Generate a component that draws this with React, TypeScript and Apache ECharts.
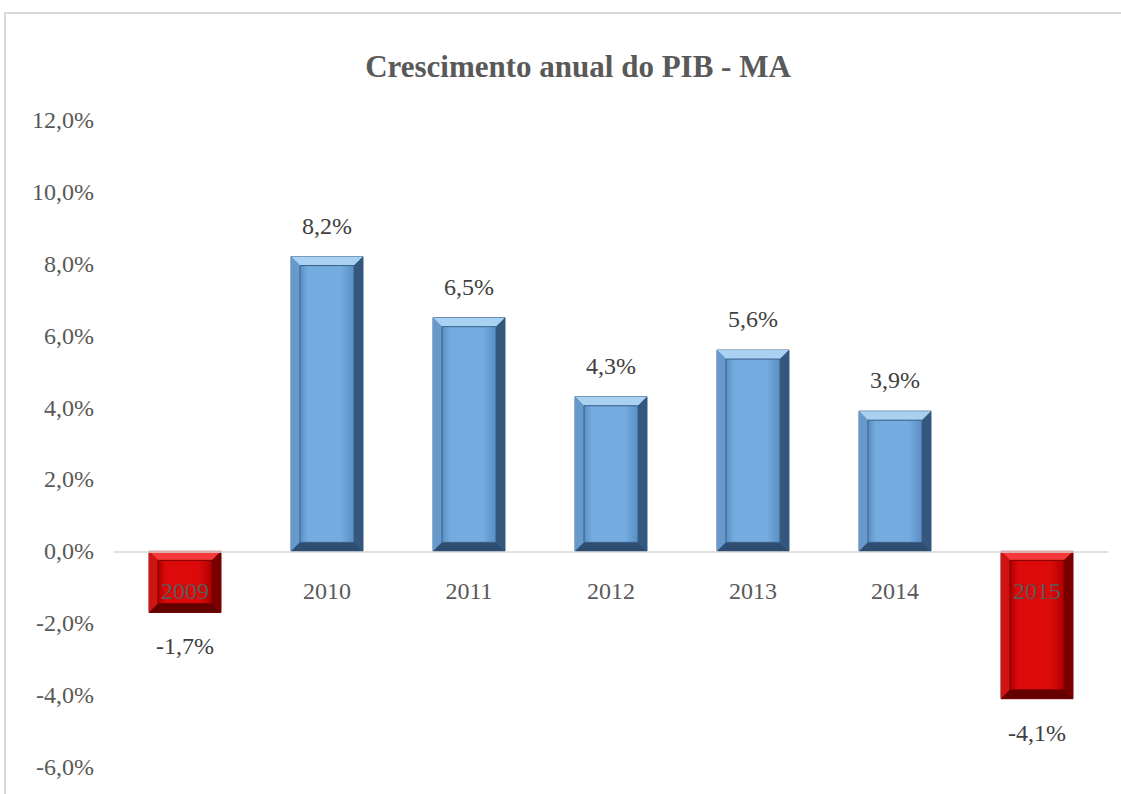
import React, { useEffect, useRef } from "react";
import * as echarts from "echarts";

const years: string[] = ["2009", "2010", "2011", "2012", "2013", "2014", "2015"];
const growth: number[] = [-1.7, 8.2, 6.5, 4.3, 5.6, 3.9, -4.1];
const yMin = -6;
const yMax = 12;
const yStep = 2;

const FONT = "Liberation Serif, Times New Roman, serif";
const fmt = (v: number) => v.toFixed(1).replace(".", ",") + "%";

export default function App() {
  const ref = useRef<HTMLDivElement>(null);
  useEffect(() => {
    if (!ref.current) return;
    const chart = echarts.init(ref.current, null, { renderer: "svg" });
    const gridTop = 120;
    const gridBottom = 27;
    const plotH = 794 - gridTop - gridBottom;
    const zeroFromBottom = ((0 - yMin) / (yMax - yMin)) * plotH;
    const renderItem = (params: any, api: any) => {
      const xi = api.value(0);
      const v = api.value(1);
      const top = api.coord([xi, v]);
      const base = api.coord([xi, 0]);
      const bw = 72;
      const cx = top[0];
      const x0 = cx - bw / 2;
      const x1 = cx + bw / 2;
      const y0 = Math.min(top[1], base[1]);
      const y1 = Math.max(top[1], base[1]);
      const b = 9;
      const neg = v < 0;
      const c = neg
        ? { base: "#a00000", topB: "#f43a3a", leftB: "#d01414", rightB: "#7a0000", botB: "#640000", f1: "#dc0a0a", f2: "#b00000", edge: "#7a0000" }
        : { base: "#4f7fb5", topB: "#a9d2f2", leftB: "#6699cc", rightB: "#34577e", botB: "#2e4d70", f1: "#74ace0", f2: "#5b8fc4", edge: "#3a5f88" };
      const lblY = neg ? y1 + 34 : y0 - 31;
      return {
        type: "group",
        children: [
          { type: "rect", shape: { x: x0, y: y0, width: bw, height: y1 - y0 }, style: { fill: c.base, stroke: c.edge, lineWidth: 1 } },
          { type: "polygon", shape: { points: [[x0, y0], [x1, y0], [x1 - b, y0 + b], [x0 + b, y0 + b]] }, style: { fill: c.topB } },
          { type: "polygon", shape: { points: [[x0, y0], [x0 + b, y0 + b], [x0 + b, y1 - b], [x0, y1]] }, style: { fill: c.leftB } },
          { type: "polygon", shape: { points: [[x1, y0], [x1, y1], [x1 - b, y1 - b], [x1 - b, y0 + b]] }, style: { fill: c.rightB } },
          { type: "polygon", shape: { points: [[x0, y1], [x0 + b, y1 - b], [x1 - b, y1 - b], [x1, y1]] }, style: { fill: c.botB } },
          {
            type: "rect",
            shape: { x: x0 + b, y: y0 + b, width: bw - 2 * b, height: Math.max(0, y1 - y0 - 2 * b) },
            style: {
              fill: new echarts.graphic.LinearGradient(0, 0, 1, 0, [
                { offset: 0, color: c.f2 },
                { offset: 0.15, color: c.f1 },
                { offset: 0.75, color: c.f1 },
                { offset: 1, color: c.f2 },
              ]),
              stroke: c.edge,
              lineWidth: 1,
            },
          },
          {
            type: "text",
            x: cx,
            y: lblY,
            style: { text: fmt(v), fill: "#404040", fontFamily: FONT, fontSize: 24, align: "center", verticalAlign: "middle" },
          },
        ],
      };
    };
    chart.setOption({
      animation: false,
      backgroundColor: "#ffffff",
      title: {
        text: "Crescimento anual do PIB - MA",
        left: 573,
        textAlign: "center",
        top: 46,
        textStyle: { fontFamily: FONT, fontSize: 31, fontWeight: "bold", color: "#595959" },
      },
      graphic: [
        { type: "rect", shape: { x: 5, y: 13, width: 1200, height: 900 }, style: { fill: "none", stroke: "#d9d9d9", lineWidth: 2 }, z: 100 },
      ],
      grid: { left: 114, right: 13, top: gridTop, bottom: gridBottom, outerBoundsMode: "none", containLabel: false },
      xAxis: {
        type: "category",
        data: years,
        z: 10,
        offset: -zeroFromBottom,
        axisLine: { onZero: false, lineStyle: { color: "#d9d9d9", width: 1.5 } },
        axisTick: { show: false },
        axisLabel: { color: "#595959", fontFamily: FONT, fontSize: 24, margin: 28 },
      },
      yAxis: {
        type: "value",
        min: yMin,
        max: yMax,
        interval: yStep,
        axisLine: { show: false },
        axisTick: { show: false },
        splitLine: { show: false },
        axisLabel: { color: "#595959", fontFamily: FONT, fontSize: 24, margin: 20, formatter: (v: number) => fmt(v) },
      },
      series: [
        {
          type: "custom",
          renderItem,
          z: 2,
          data: growth.map((g, i) => [i, g]),
          encode: { x: 0, y: 1 },
        },
      ],
    });
    return () => chart.dispose();
  }, []);
  return <div ref={ref} style={{ position: "fixed", left: 0, top: 0, width: 1121, height: 794 }} />;
}
